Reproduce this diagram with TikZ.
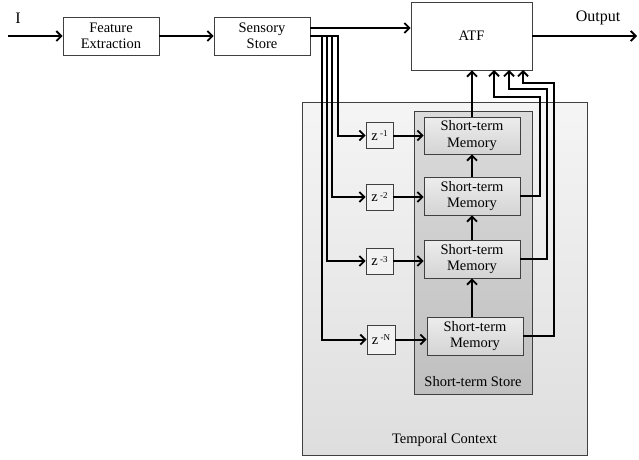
\documentclass[tikz,border=0pt]{standalone}
\usepackage{fontspec}
\setmainfont{Liberation Serif}
\usetikzlibrary{arrows.meta}
\definecolor{edge}{HTML}{404040}
\begin{document}
\begin{tikzpicture}[x=1pt,y=-1pt,
  txt/.style={font=\fontsize{14.5}{16.5}\selectfont, align=center, inner sep=0pt},
  box/.style={txt, draw=edge, line width=0.9pt, fill=white},
  stmbox/.style={box, minimum width=96pt, minimum height=37pt, top color=black!7, bottom color=black!17},
  zbox/.style={box, minimum width=27pt, minimum height=26pt, fill=black!5},
  conn/.style={line width=2pt, -{Straight Barb[length=5pt,width=10pt,line width=1.8pt]}},
  plain/.style={line width=2pt}]
\useasboundingbox (0,0) rectangle (639,459);
% containers
\node[box, minimum width=285pt, minimum height=353pt, top color=black!4, bottom color=black!13] (tc) at (444.5,278.5) {};
\node[txt] (tcl) at (444.5,440) {Temporal Context};
\node[box, minimum width=118pt, minimum height=283pt, top color=black!14, bottom color=black!25] (sts) at (473,252.5) {};
\node[txt] (stsl) at (473,382) {Short-term Store};
% top row
\node[box, minimum width=96pt, minimum height=38pt] (fe) at (111,36) {Feature\\Extraction};
\node[box, minimum width=96pt, minimum height=38pt] (ss) at (262,36) {Sensory\\Store};
\node[box, minimum width=121pt, minimum height=68pt] (atf) at (471.5,36) {ATF};
\node[txt, font=\fontsize{16}{18}\selectfont] (il) at (18,18) {I};
\node[txt, font=\fontsize{16}{18}\selectfont] (ol) at (598,18) {Output};
% memories
\node[stmbox] (m1) at (472,135.5) {Short-term\\Memory};
\node[stmbox, minimum height=38pt] (m2) at (472,196) {Short-term\\Memory};
\node[stmbox, minimum height=38pt] (m3) at (472,259) {Short-term\\Memory};
\node[stmbox, minimum height=38pt] (m4) at (475,336) {Short-term\\Memory};
% delays
\newcommand{\zlab}[1]{z\,\raisebox{0.55ex}{\fontsize{9}{9}\selectfont #1}}
\node[zbox] (z1) at (379.5,135.5) {\zlab{-1}};
\node[zbox] (z2) at (379.5,197) {\zlab{-2}};
\node[zbox] (z3) at (379.5,261) {\zlab{-3}};
\node[zbox, minimum width=28pt, minimum height=29pt] (zn) at (381,339.5) {\zlab{-N}};
% coordinates
\coordinate (in) at (8,36);
\coordinate (out) at (637,36);
\coordinate (sa) at (310,28);
\coordinate (br) at (310,36);
\coordinate (v1) at (338,36);
\coordinate (v2) at (332,36);
\coordinate (v3) at (326.5,36);
\coordinate (v4) at (321.5,36);
\coordinate (f1) at (540,97);
\coordinate (f2) at (547,89);
\coordinate (f3) at (553.5,83);
\coordinate (a1) at (494,70);
\coordinate (a2) at (509,70);
\coordinate (a3) at (523,70);
% connectors
\draw[conn] (in) -- (fe.west);
\draw[conn] (fe.east) -- (ss.west);
\draw[conn] (sa) -- (sa -| atf.west);
\draw[conn] (atf.east |- out) -- (out);
\draw[conn] (br) -- (v1) |- (z1.west);
\draw[conn] (br) -- (v2) |- (z2.west);
\draw[conn] (br) -- (v3) |- (z3.west);
\draw[conn] (br) -- (v4) |- (zn.west);
\draw[conn] (z1.east) -- (z1.east -| m1.west);
\draw[conn] (z2.east) -- (z2.east -| m2.west);
\draw[conn] (z3.east) -- (z3.east -| m3.west);
\draw[conn] (zn.east) -- (zn.east -| m4.west);
\draw[conn] (m3.south |- m4.north) -- (m3.south);
\draw[conn] (m3.north) -- (m2.south);
\draw[conn] (m2.north) -- (m1.south);
\draw[conn] (m1.north) -- (m1.north |- atf.south);
\draw[conn] (m2.east) -| (f1) -| (a1);
\draw[conn] (m3.east) -| (f2) -| (a2);
\draw[conn] (m4.east) -| (f3) -| (a3);
\end{tikzpicture}
\end{document}
